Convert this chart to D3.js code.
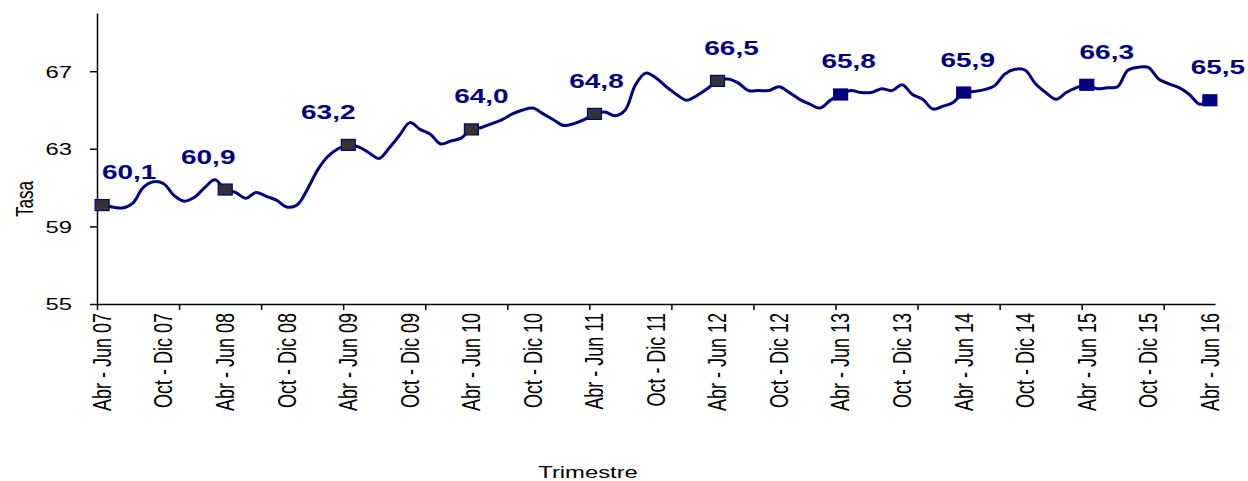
<!DOCTYPE html>
<meta charset="utf-8">
<title>Tasa por trimestre</title>
<style>
body { margin: 0; background: #fff; }
text { font-family: "Liberation Sans", Arial, sans-serif; }
.axis path, .axis line { stroke: #000; stroke-width: 1.5; }
.lbl { fill: #000080; font-weight: bold; font-size: 20px; }
</style>
<body>
<script src="https://d3js.org/d3.v7.min.js"></script>
<script>

// rolling quarters, monthly, Abr-Jun 07 .. Abr-Jun 16
var meses = ["Ene","Feb","Mar","Abr","May","Jun","Jul","Ago","Sep","Oct","Nov","Dic"];
var trimestres = [];
for (var i = 0; i < 109; ++i) {
  var s = 3 + i, e = s + 2;
  var yy = 7 + Math.floor(e / 12);
  trimestres.push(meses[s % 12] + " - " + meses[e % 12] + " " + (yy < 10 ? "0" + yy : yy));
}

var tasa = [
  60.1, 60.0, 59.95, 60.2, 61.0, 61.3, 61.2, 60.6, 60.3, 60.5, 61.0, 61.4,
  60.9, 60.75, 60.45, 60.75, 60.55, 60.35, 60.0, 60.1, 60.9, 61.9, 62.6, 63.0,
  63.2, 63.1, 62.8, 62.5, 63.05, 63.7, 64.35, 64.0, 63.75, 63.25, 63.4, 63.55,
  64.0, 64.1, 64.3, 64.5, 64.8, 65.0, 65.1, 64.8, 64.5, 64.2, 64.3, 64.5,
  64.8, 64.9, 64.7, 65.0, 66.3, 66.9, 66.65, 66.2, 65.8, 65.5, 65.75, 66.1,
  66.5, 66.6, 66.4, 66.0, 66.0, 66.0, 66.2, 65.9, 65.55, 65.3, 65.1, 65.5,
  65.8, 66.0, 65.9, 65.9, 66.1, 66.0, 66.3, 65.8, 65.55, 65.05, 65.2, 65.4,
  65.9, 65.95, 66.05, 66.25, 66.85, 67.1, 67.05, 66.35, 65.9, 65.55, 65.9, 66.15,
  66.3, 66.1, 66.15, 66.2, 67.05, 67.2, 67.2, 66.6, 66.35, 66.15, 65.8, 65.3,
  65.5
];

// labelled points (Abr - Jun of each year)
var marcados = [0, 12, 24, 36, 48, 60, 72, 84, 96, 108];
var etiquetas = ["60,1","60,9","63,2","64,0","64,8","66,5","65,8","65,9","66,3","65,5"];
var yTicks = [55, 59, 63, 67];

// layout
var width = 1248, height = 481;
var mLeft = 97, mRight = 1215, mTop = 13, mBottom = 304;
var sx = 1.4; // picture is stretched sideways
var labelDx = [27, -17, -20, 10, 2, 14, 8, 4, 20, 8];

var svg = d3.select("body").append("svg")
    .attr("width", width)
    .attr("height", height);

var x = d3.scaleBand().domain(trimestres).range([mLeft, mRight]).padding(0);
var xi = d3.scaleLinear().domain([0, trimestres.length]).range([mLeft, mRight]);
var y = d3.scaleLinear().domain([55, 70]).range([mBottom, mTop]);
var cx = function(i) { return x(trimestres[i]) + x.bandwidth() / 2; };

// y axis
var gy = svg.append("g")
    .attr("class", "axis")
    .attr("transform", "translate(" + mLeft + ",0)")
    .call(d3.axisLeft(y).tickValues(yTicks).tickSize(7).tickSizeOuter(0).tickPadding(0));
gy.selectAll("text").remove();
gy.selectAll(".tick").append("text")
    .attr("transform", "translate(-25,0) scale(" + sx + ",1)")
    .attr("text-anchor", "end")
    .attr("dy", "0.35em")
    .attr("fill", "#000")
    .style("font-size", "17px")
    .text(function(d) { return d; });

// x axis ticks every 8 months
svg.append("g")
    .attr("class", "axis")
    .attr("transform", "translate(0," + mBottom + ")")
    .call(d3.axisBottom(xi).tickValues(d3.range(0, trimestres.length, 8)).tickSize(6).tickSizeOuter(0).tickFormat(""));

// x labels every 6 months
var gx = svg.append("g")
    .attr("transform", "translate(0," + mBottom + ")")
    .call(d3.axisBottom(x).tickValues(trimestres.filter(function(d, i) { return i % 6 == 0; })).tickSize(0));
gx.select(".domain").remove();
gx.selectAll("text").remove();
gx.selectAll(".tick").append("text")
    .attr("transform", "translate(0,9) scale(" + sx + ",1) rotate(-90)")
    .attr("text-anchor", "end")
    .attr("dy", "0.35em")
    .attr("fill", "#000")
    .style("font-size", "18px")
    .text(function(d) { return d; });

// line
var line = d3.line()
    .x(function(d, i) { return cx(i); })
    .y(function(d) { return y(d); })
    .curve(d3.curveCatmullRom.alpha(0.5));

svg.append("path")
    .datum(tasa)
    .attr("fill", "none")
    .attr("stroke", "#000080")
    .attr("stroke-width", 3)
    .attr("d", line);

// markers
svg.selectAll(".mk")
    .data(marcados)
  .enter().append("rect")
    .attr("class", "mk")
    .attr("x", function(d) { return cx(d) - 7; })
    .attr("y", function(d) { return y(tasa[d]) - 5.5; })
    .attr("width", 14)
    .attr("height", 11)
    .attr("fill", function(d, i) { return i < 6 ? "#333333" : "#000080"; })
    .attr("stroke", "#000080")
    .attr("stroke-width", 1.2);

svg.selectAll(".lbl")
    .data(marcados)
  .enter().append("text")
    .attr("class", "lbl")
    .attr("text-anchor", "middle")
    .attr("transform", function(d, i) {
      return "translate(" + (cx(d) + labelDx[i]) + "," + (y(tasa[d]) - 26) + ") scale(" + sx + ",1)";
    })
    .text(function(d, i) { return etiquetas[i]; });

// axis titles
svg.append("text")
    .attr("transform", "translate(33,199) scale(" + sx + ",1) rotate(-90)")
    .attr("text-anchor", "middle")
    .style("font-size", "17px")
    .text("Tasa");

svg.append("text")
    .attr("transform", "translate(588,478) scale(" + sx + ",1)")
    .attr("text-anchor", "middle")
    .style("font-size", "17px")
    .text("Trimestre");

</script>
</body>
